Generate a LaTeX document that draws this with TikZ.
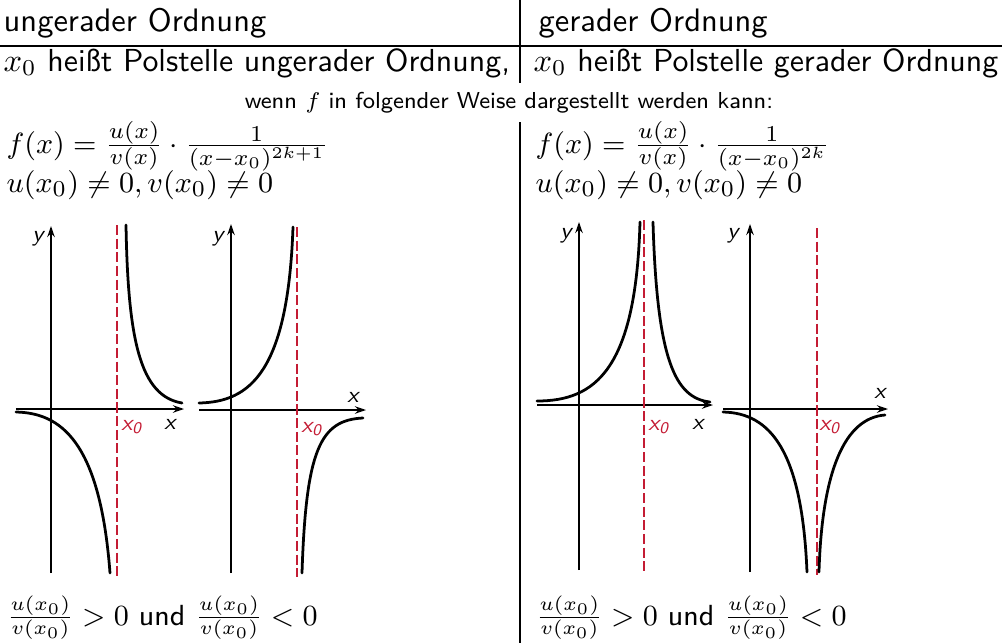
\documentclass[tikz,border=0pt]{standalone}
\usetikzlibrary{arrows.meta}
\definecolor{polred}{RGB}{196,28,52}
\tikzset{
  txt/.style={inner sep=0pt, anchor=base west, font=\fontsize{10}{12}\selectfont\sffamily},
  rowtxt/.style={inner sep=0pt, anchor=base west, font=\fontsize{9.8}{12}\selectfont\sffamily},
  ctxt/.style={inner sep=0pt, anchor=base, font=\fontsize{7.1}{9}\selectfont\sffamily},
  ftxt/.style={inner sep=0pt, anchor=base west, font=\fontsize{9.5}{12}\selectfont\sffamily},
  btxt/.style={inner sep=0pt, anchor=base west, font=\fontsize{8.95}{11}\selectfont\sffamily},
  rule/.style={line width=0.4pt, black},
  axis/.style={line width=0.6pt, -{Stealth[length=3.4pt,width=2.3pt]}},
  curve/.style={line width=0.85pt, line cap=round},
  pole/.style={line width=0.6pt, polred, dash pattern=on 3.1pt off 1.1pt},
  axlab/.style={inner sep=0pt, font=\scriptsize\sffamily\itshape},
  polab/.style={inner sep=0pt, text=polred, font=\scriptsize\sffamily\itshape},
}
\begin{document}
\begin{tikzpicture}[x=0.30769pt,y=-0.30769pt]
\useasboundingbox (0,0) rectangle (1002,643);
% table rules
\coordinate (hl) at (0,46); \coordinate (hr) at (1002,46);
\draw[rule] (hl) -- (hr);
\coordinate (vt1) at (520,0); \coordinate (vb1) at (520,83);
\coordinate (vt2) at (520,122); \coordinate (vb2) at (520,643);
\draw[rule] (vt1) -- (vb1);
\draw[rule] (vt2) -- (vb2);
% headers
\node[txt] (h1) at (3,31) {ungerader Ordnung};
\node[txt] (h2) at (538,31) {gerader Ordnung};
\node[rowtxt] (r1) at (3,71) {$x_0$ heißt Polstelle ungerader Ordnung,};
\node[rowtxt] (r2) at (533,71) {$x_0$ heißt Polstelle gerader Ordnung};
\node[ctxt] (r3) at (509,108) {wenn $f$ in folgender Weise dargestellt werden kann:};
% formulas
\node[ftxt] (f1) at (6,153) {$f(x)=\frac{u(x)}{v(x)}\cdot\frac{1}{(x-x_0)^{2k+1}}$};
\node[ftxt] (g1) at (6,192) {$u(x_0)\neq 0, v(x_0)\neq 0$};
\node[ftxt] (f2) at (535,153) {$f(x)=\frac{u(x)}{v(x)}\cdot\frac{1}{(x-x_0)^{2k}}$};
\node[ftxt] (g2) at (535,192) {$u(x_0)\neq 0, v(x_0)\neq 0$};
\node[btxt] (b1) at (6,625) {$\frac{u(x_0)}{v(x_0)}>0$ und $\frac{u(x_0)}{v(x_0)}<0$};
\node[btxt] (b2) at (535,625) {$\frac{u(x_0)}{v(x_0)}>0$ und $\frac{u(x_0)}{v(x_0)}<0$};

% ---------- graph 1 ----------
\coordinate (a1l) at (16,409); \coordinate (a1r) at (184,409);
\coordinate (a1b) at (51,573); \coordinate (a1t) at (51,226);
\draw[axis] (a1l) -- (a1r);
\draw[axis] (a1b) -- (a1t);
\coordinate (p1t) at (117,225); \coordinate (p1b) at (117,576);
\draw[pole] (p1t) -- (p1b);
\draw[curve] (126,225) .. controls (128,340) and (140,396) .. (182,403);
\draw[curve] (16,412) .. controls (60,413) and (100,440) .. (110,573);
\node[axlab] (y1) at (38,239) {y};
\node[axlab] (x1) at (170,424) {x};
\node[polab] (o1) at (132,427) {x\textsubscript{0}};

% ---------- graph 2 ----------
\coordinate (a2l) at (199,410); \coordinate (a2r) at (366,410);
\coordinate (a2b) at (231,573); \coordinate (a2t) at (231,224);
\draw[axis] (a2l) -- (a2r);
\draw[axis] (a2b) -- (a2t);
\coordinate (p2t) at (297,227); \coordinate (p2b) at (297,577);
\draw[pole] (p2t) -- (p2b);
\draw[curve] (199,403) .. controls (250,402) and (288,372) .. (293,227);
\draw[curve] (302,573) .. controls (306,450) and (320,420) .. (363,418);
\node[axlab] (y2) at (218,239) {y};
\node[axlab] (x2) at (353,397) {x};
\node[polab] (o2) at (312,429) {x\textsubscript{0}};

% ---------- graph 3 ----------
\coordinate (a3l) at (537,405); \coordinate (a3r) at (713,405);
\coordinate (a3b) at (579,570); \coordinate (a3t) at (579,222);
\draw[axis] (a3l) -- (a3r);
\draw[axis] (a3b) -- (a3t);
\coordinate (p3t) at (644,220); \coordinate (p3b) at (644,572);
\draw[pole] (p3t) -- (p3b);
\draw[curve] (537,401) .. controls (595,401) and (636,370) .. (640,222);
\draw[curve] (653,222) .. controls (657,360) and (675,398) .. (710,402);
\node[axlab] (y3) at (566,236) {y};
\node[axlab] (x3) at (698,424) {x};
\node[polab] (o3) at (659,427) {x\textsubscript{0}};

% ---------- graph 4 ----------
\coordinate (a4l) at (723,409); \coordinate (a4r) at (888,409);
\coordinate (a4b) at (750,572); \coordinate (a4t) at (750,224);
\draw[axis] (a4l) -- (a4r);
\draw[axis] (a4b) -- (a4t);
\coordinate (p4t) at (817,228); \coordinate (p4b) at (817,575);
\draw[pole] (p4t) -- (p4b);
\draw[curve] (723,412) .. controls (770,413) and (802,450) .. (807,572);
\draw[curve] (819,572) .. controls (822,470) and (845,418) .. (885,415);
\node[axlab] (y4) at (733,236) {y};
\node[axlab] (x4) at (880,393) {x};
\node[polab] (o4) at (830,427) {x\textsubscript{0}};
\end{tikzpicture}
\end{document}
